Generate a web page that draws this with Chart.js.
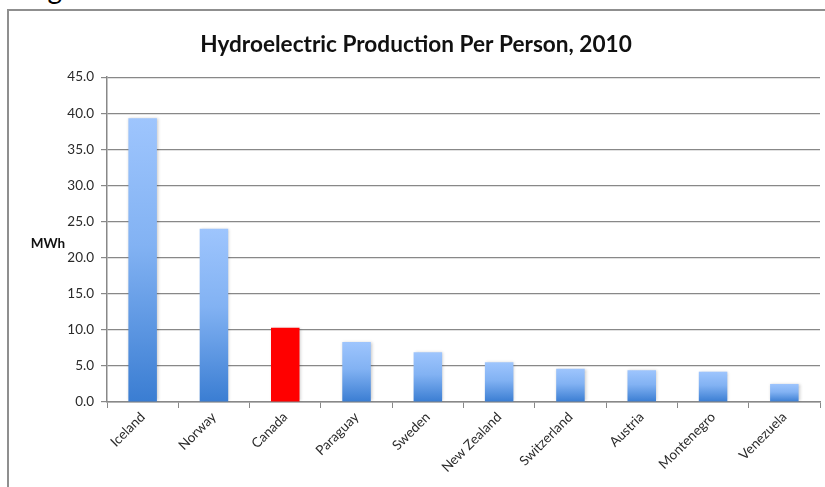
<!DOCTYPE html>
<html>
<head>
<meta charset="utf-8">
<script src="https://cdn.jsdelivr.net/npm/chart.js@4"></script>
<style>
  html, body { margin: 0; padding: 0; background: #fff; overflow: hidden; }
  #wrap { position: relative; width: 825px; height: 487px; }
  #frame { position: absolute; left: 7px; top: 9px; width: 840px; height: 500px; border: 2px solid #8f8f8f; box-sizing: border-box; }
  #fig { position: absolute; left: 25px; top: -26px; font: 28px Lato, sans-serif; line-height: 28px; color: #000; white-space: nowrap; }
  #c { position: absolute; left: 0; top: 0; }
</style>
</head>
<body>
<div id="wrap">
  <div id="fig">Figure 3</div>
  <div id="frame"></div>
  <canvas id="c" width="825" height="487"></canvas>
</div>
<script>
// data
var countries = ['Iceland', 'Norway', 'Canada', 'Paraguay', 'Sweden', 'New Zealand', 'Switzerland', 'Austria', 'Montenegro', 'Venezuela'];
var mwhPerPerson = [39.3, 24.0, 10.3, 8.3, 6.9, 5.5, 4.6, 4.4, 4.2, 2.5];
var highlight = 'Canada';
var yTicks = [0, 5, 10, 15, 20, 25, 30, 35, 40, 45];

var gridGray = '#888888';
var labelFont = 'Lato, sans-serif';

// per-bar vertical gradient, like the old Excel look
function barFill(context) {
    var chart = context.chart;
    if (countries[context.dataIndex] === highlight) return '#ff0000';
    if (!chart.chartArea || !chart.scales.y) return '#6fa4ec';
    var y = chart.scales.y;
    var top = y.getPixelForValue(context.raw);
    var bottom = y.getPixelForValue(0);
    var g = chart.ctx.createLinearGradient(0, top, 0, bottom);
    g.addColorStop(0, '#9ec5fd');
    g.addColorStop(0.45, '#82b2f3');
    g.addColorStop(1, '#3a7dd2');
    return g;
}

// horizontal "MWh" label left of the value axis
var unitLabel = {
    id: 'unitLabel',
    afterDraw: function (chart) {
        var ctx = chart.ctx, y = chart.scales.y;
        ctx.save();
        ctx.font = 'bold 13.5px ' + labelFont;
        ctx.fillStyle = '#111';
        ctx.textAlign = 'center';
        ctx.textBaseline = 'middle';
        ctx.fillText('MWh', 48, (y.top + y.bottom) / 2 + 4);
        ctx.restore();
    }
};

// soft shadow under the bars
var barShadow = {
    id: 'barShadow',
    beforeDatasetsDraw: function (chart) {
        var ctx = chart.ctx;
        ctx.save();
        ctx.shadowColor = 'rgba(0,0,0,0.22)';
        ctx.shadowBlur = 3;
        ctx.shadowOffsetX = 1;
        ctx.shadowOffsetY = 0;
    },
    afterDatasetsDraw: function (chart) {
        chart.ctx.restore();
    }
};

var ctx = document.getElementById('c').getContext('2d');
var myChart = new Chart(ctx, {
    type: 'bar',
    data: {
        labels: countries,
        datasets: [{
            label: 'MWh per person',
            data: mwhPerPerson,
            backgroundColor: barFill,
            borderWidth: 0,
            barPercentage: 0.4,
            categoryPercentage: 1.0
        }]
    },
    options: {
        responsive: false,
        animation: false,
        layout: { padding: { left: 12, right: 5, top: 0, bottom: 0 } },
        plugins: {
            legend: { display: false },
            tooltip: { enabled: false },
            title: {
                display: true,
                text: 'Hydroelectric Production Per Person, 2010',
                color: '#111',
                font: { family: labelFont, size: 22.6, weight: 'bold' },
                padding: { top: 31, bottom: 19 }
            }
        },
        scales: {
            x: {
                grid: {
                    display: true,
                    offset: true,
                    drawOnChartArea: false,
                    drawTicks: true,
                    tickLength: 6,
                    color: gridGray
                },
                border: { color: gridGray, width: 1.5 },
                ticks: {
                    color: '#2a2a2a',
                    font: { family: labelFont, size: 13.5 },
                    maxRotation: 45,
                    minRotation: 45,
                    autoSkip: false,
                    padding: 1
                },
                afterFit: function (scale) { scale.height = 85; }
            },
            y: {
                min: 0,
                max: 45,
                afterBuildTicks: function (scale) {
                    scale.ticks = yTicks.map(function (v) { return { value: v }; });
                },
                grid: {
                    color: gridGray,
                    lineWidth: 1.2,
                    drawTicks: true,
                    tickLength: 6
                },
                border: { color: gridGray, width: 1.5 },
                ticks: {
                    color: '#2a2a2a',
                    font: { family: labelFont, size: 13.5 },
                    padding: 7,
                    callback: function (v) { return Number(v).toFixed(1); }
                },
                afterFit: function (scale) { scale.width = 95; }
            }
        }
    },
    plugins: [unitLabel, barShadow]
});
</script>
</body>
</html>
